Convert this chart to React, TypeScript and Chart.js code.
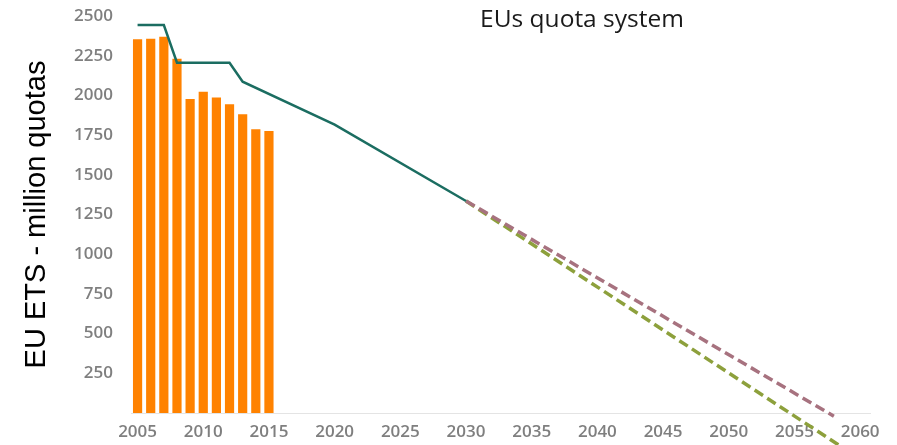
import React, { useEffect, useRef } from 'react';
import { Chart, registerables } from 'chart.js';

Chart.register(...registerables);

// Verified emissions (bars)
const barYears = [2005, 2006, 2007, 2008, 2009, 2010, 2011, 2012, 2013, 2014, 2015];
const emissions = [2353, 2357, 2370, 2231, 1977, 2023, 1986, 1944, 1881, 1787, 1776];

// Cap (solid line)
const capYears = [2005, 2007, 2008, 2012, 2013, 2020, 2030];
const capValues = [2443, 2443, 2206, 2206, 2086, 1816, 1335];

// Projections (dashed lines)
const pathAYears = [2030, 2058];
const pathAValues = [1335, -20];
const pathBYears = [2030, 2060];
const pathBValues = [1335, -290];

// Tick labels
const xTickYears = [2005, 2010, 2015, 2020, 2025, 2030, 2035, 2040, 2045, 2050, 2055, 2060];
const yTickValues = [0, 250, 500, 750, 1000, 1250, 1500, 1750, 2000, 2250, 2500];

const titleText = 'EUs quota system';
const yAxisTitle = 'EU ETS - million quotas';

const toPoints = (xs: number[], ys: number[]) => xs.map((x, i) => ({ x, y: ys[i] }));

export default function App() {
  const canvasRef = useRef<HTMLCanvasElement | null>(null);

  useEffect(() => {
    if (!canvasRef.current) return;
    const tickFont = { family: '"Open Sans", sans-serif', size: 17, weight: 600 as any };
    const chart = new Chart(canvasRef.current, {
      type: 'bar',
      data: {
        datasets: [
          {
            type: 'line',
            data: toPoints(capYears, capValues),
            borderColor: '#1b6d61',
            borderWidth: 2.5,
            pointRadius: 0,
            tension: 0,
            order: 0,
          } as any,
          {
            type: 'line',
            data: toPoints(pathAYears, pathAValues),
            borderColor: '#a7727f',
            borderWidth: 3.5,
            borderDash: [10, 5],
            pointRadius: 0,
            tension: 0,
            clip: false,
            order: 1,
          } as any,
          {
            type: 'line',
            data: toPoints(pathBYears, pathBValues),
            borderColor: '#8da03c',
            borderWidth: 3.5,
            borderDash: [10, 5],
            pointRadius: 0,
            tension: 0,
            clip: false,
            order: 1,
          } as any,
          {
            type: 'bar',
            data: toPoints(barYears, emissions),
            backgroundColor: '#ff8200',
            barPercentage: 0.7,
            categoryPercentage: 1,
            order: 2,
          } as any,
        ],
      },
      options: {
        responsive: false,
        animation: false,
        layout: { padding: { top: 16, right: 27, bottom: 0, left: 0 } },
        plugins: {
          legend: { display: false },
          tooltip: { enabled: false },
          title: { display: false },
        },
        scales: {
          x: {
            type: 'linear',
            offset: false,
            min: 2004.5,
            max: 2060.75,
            afterBuildTicks: (scale: any) => {
              scale.ticks = xTickYears.map((v) => ({ value: v }));
            },
            afterFit: (scale: any) => {
              scale.height = 32;
              scale.paddingLeft = 0;
              scale.paddingRight = 0;
            },
            grid: { display: false, drawTicks: false, offset: false },
            border: { display: true, color: '#e4e4e4', width: 1 },
            ticks: {
              autoSkip: false,
              maxRotation: 0,
              padding: 9,
              color: '#7f7f7f',
              font: tickFont,
              callback: (v: any) => String(v),
            },
          },
          y: {
            type: 'linear',
            min: 0,
            max: 2500,
            afterBuildTicks: (scale: any) => {
              scale.ticks = yTickValues.map((v) => ({ value: v }));
            },
            afterFit: (scale: any) => {
              scale.width = 131;
              scale.paddingTop = 0;
              scale.paddingBottom = 0;
            },
            grid: { display: false, drawTicks: false },
            border: { display: false },
            ticks: {
              padding: 18,
              color: '#7f7f7f',
              font: tickFont,
              callback: (v: any) => (v === 0 ? '' : String(v)),
            },
            title: {
              display: true,
              text: yAxisTitle,
              color: '#000000',
              font: { family: '"Liberation Sans", Arial, sans-serif', size: 29, weight: 'normal' as any },
              padding: { top: 20, bottom: 0 },
            },
          },
        },
      },
    });
    return () => chart.destroy();
  }, []);

  return (
    <div style={{ position: 'absolute', left: 0, top: 0, width: 897, height: 445, background: '#ffffff' }}>
      <canvas ref={canvasRef} width={897} height={445} style={{ position: 'absolute', left: 0, top: 0 }} />
      <div
        style={{
          position: 'absolute',
          left: 432,
          width: 300,
          top: 4,
          textAlign: 'center',
          fontFamily: '"Open Sans", sans-serif',
          fontSize: 24.5,
          lineHeight: '28px',
          color: '#1a1a1a',
        }}
      >
        {titleText}
      </div>
    </div>
  );
}
